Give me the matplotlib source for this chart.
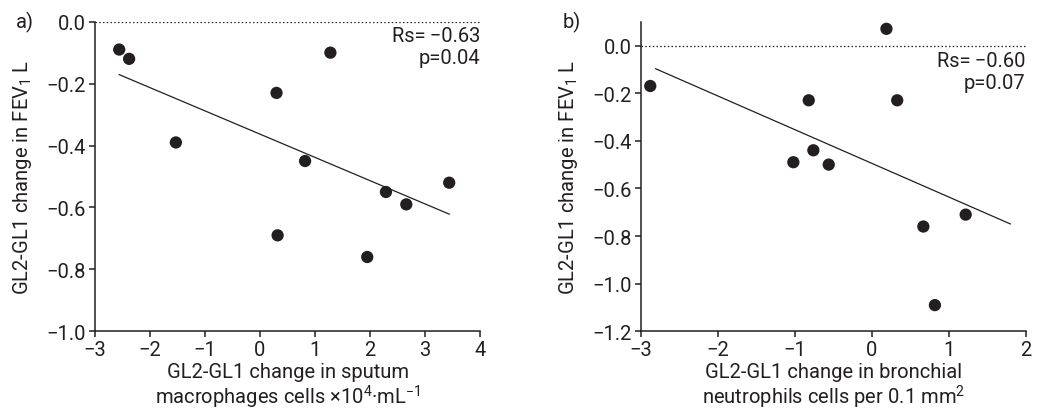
import numpy as np
import matplotlib
matplotlib.use("Agg")
import matplotlib.pyplot as plt

plt.rcParams['font.family'] = ['Roboto', 'DejaVu Sans']
plt.rcParams['mathtext.fontset'] = 'custom'
plt.rcParams['mathtext.rm'] = 'Roboto'

INK = '#231f20'

# Panel a: sputum macrophages vs FEV1 change
macro_x = [-2.56, -2.38, -1.53, 0.30, 1.28, 0.82, 0.32, 2.29, 2.66, 3.44, 1.95]
macro_y = [-0.09, -0.12, -0.39, -0.23, -0.10, -0.45, -0.69, -0.55, -0.59, -0.52, -0.76]
macro_fit_range = [min(macro_x), max(macro_x)]
macro_stats = ("Rs=\u2009\u22120.63", "p=0.04")

# Panel b: bronchial neutrophils vs FEV1 change
neut_x = [-2.88, 0.19, -0.82, 0.33, -0.76, -1.02, -0.56, 0.67, 1.22, 0.82]
neut_y = [-0.17, 0.07, -0.23, -0.23, -0.44, -0.49, -0.50, -0.76, -0.71, -1.09]
neut_fit_range = [-2.81, 1.80]
neut_stats = ("Rs=\u2009\u22120.60", "p=0.07")

ylabel = "GL2-GL1 change in FEV$_1$ L"
xlabel_a = "GL2-GL1 change in sputum\nmacrophages cells \u00d710$^4$\u00b7mL$^{\u22121}$"
xlabel_b = "GL2-GL1 change in bronchial\nneutrophils cells per 0.1 mm$^2$"

FS = 14.5

fig = plt.figure(figsize=(10.43, 4.14), dpi=100)
ax_a = fig.add_axes([0.0911, 0.1973, 0.3691, 0.7479])
ax_b = fig.add_axes([0.6146, 0.1973, 0.3688, 0.7479])


def fmt(v, nd):
    s = f"{abs(v):.{nd}f}"
    return ("\u2212" + s) if round(v, nd) < 0 else s


def draw_panel(ax, xs, ys, fit_range, stats, xlim, ylim, yticks, xlabel, tag, stats_y):
    ax.axhline(0, color=INK, lw=0.9, ls=(0, (1.2, 1.8)), zorder=1)
    coef = np.polyfit(xs, ys, 1)
    fx = np.array(fit_range)
    ax.plot(fx, np.polyval(coef, fx), color=INK, lw=0.9, zorder=2)
    ax.scatter(xs, ys, s=78, color=INK, edgecolors='none', zorder=3)
    ax.set_xlim(*xlim)
    ax.set_ylim(*ylim)
    xt = np.arange(xlim[0], xlim[1] + 1)
    ax.set_xticks(xt)
    ax.set_yticks(yticks)
    ax.set_xticklabels([fmt(v, 0) for v in xt])
    ax.set_yticklabels([fmt(v, 1) for v in yticks])
    for side in ('top', 'right'):
        ax.spines[side].set_visible(False)
    for side in ('left', 'bottom'):
        ax.spines[side].set_color(INK)
        ax.spines[side].set_linewidth(1.1)
    ax.tick_params(direction='out', length=4.5, width=1.1, colors=INK,
                   labelsize=FS, pad=2)
    ax.set_ylabel(ylabel, fontsize=FS, color=INK, labelpad=9)
    ax.set_xlabel(xlabel, fontsize=FS, color=INK, labelpad=2, linespacing=1.1)
    ax.text(1.0, stats_y, stats[0] + "\n" + stats[1],
            transform=ax.transAxes, ha='right', va='top', fontsize=FS,
            color=INK, linespacing=1.2)
    ax.text(-0.205, 1.0, tag, transform=ax.transAxes, ha='left', va='center',
            fontsize=FS, color=INK)


draw_panel(ax_a, macro_x, macro_y, macro_fit_range, macro_stats,
           (-3, 4), (-1.0, 0.0), np.round(np.arange(-1.0, 0.01, 0.2), 1),
           xlabel_a, "a)", 0.985)
draw_panel(ax_b, neut_x, neut_y, neut_fit_range, neut_stats,
           (-3, 2), (-1.2, 0.1), np.round(np.arange(-1.2, 0.01, 0.2), 1),
           xlabel_b, "b)", 0.905)

fig.savefig("out.png", dpi=100)
